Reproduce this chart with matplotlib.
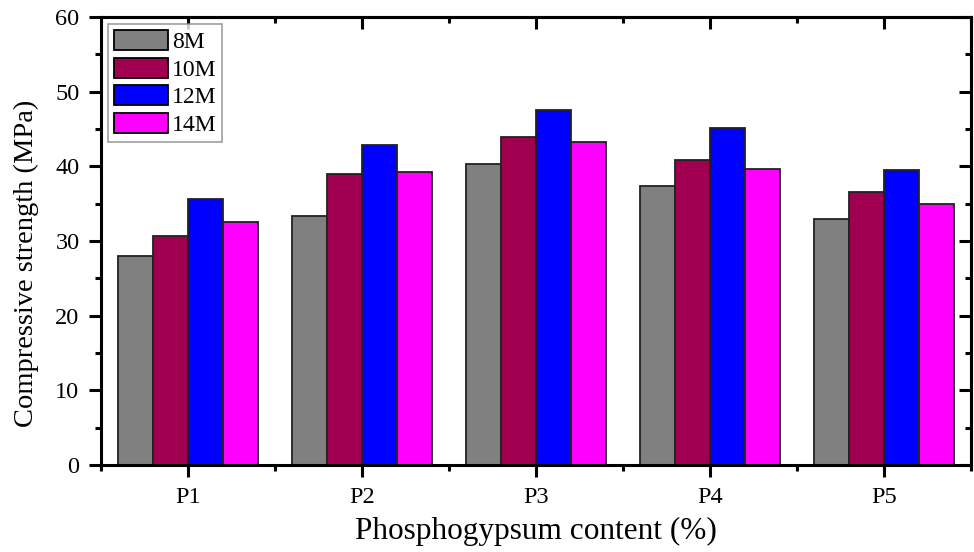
import matplotlib
matplotlib.use("Agg")
import matplotlib.pyplot as plt
from matplotlib.ticker import MultipleLocator, FixedLocator
import numpy as np

plt.rcParams['font.family'] = ['Liberation Serif', 'DejaVu Serif']

# data
groups = ['P1', 'P2', 'P3', 'P4', 'P5']
series_names = ['8M', '10M', '12M', '14M']
s_8m = [28.0, 33.3, 40.3, 37.4, 32.9]
s_10m = [30.7, 39.0, 43.9, 40.9, 36.6]
s_12m = [35.6, 42.9, 47.5, 45.2, 39.5]
s_14m = [32.5, 39.2, 43.2, 39.6, 34.9]
colors = ['#808080', '#A0004F', '#0000FF', '#FF00FF']

fig = plt.figure(figsize=(9.74, 5.52), dpi=100)
ax = fig.add_axes([101 / 974, 1 - 465 / 552, 870 / 974, 448 / 552])

x = np.arange(1, len(groups) + 1)
w = 0.2
for i, (vals, name) in enumerate(zip([s_8m, s_10m, s_12m, s_14m], series_names)):
    ax.bar(x + (i - 1.5) * w, vals, width=w, color=colors[i], edgecolor='#222222',
           linewidth=1.3, label=name)

ax.set_xlim(0.5, 5.5)
ax.set_ylim(0, 60)
ax.set_xticks(x)
ax.set_xticklabels(groups)
ax.xaxis.set_minor_locator(FixedLocator(np.arange(0.5, 6, 1)))
ax.yaxis.set_major_locator(MultipleLocator(10))
ax.yaxis.set_minor_locator(MultipleLocator(5))

for s in ax.spines.values():
    s.set_linewidth(2.2)
ax.tick_params(axis='both', which='major', direction='out', length=8.5, width=2.2,
               labelsize=17.5, pad=7)
ax.tick_params(axis='both', which='minor', direction='out', length=4.5, width=2.2)
ax.tick_params(top=False, right=False, which='both')

# mirrored inward ticks on top and right
axt = ax.secondary_xaxis('top')
axt.set_xticks(x)
axt.set_xticks(np.arange(0.5, 6, 1), minor=True)
axt.tick_params(which='major', direction='in', length=8.5, width=2.2, labeltop=False)
axt.tick_params(which='minor', direction='in', length=4.5, width=2.2)
axt.spines['top'].set_linewidth(2.2)
axr = ax.secondary_yaxis('right')
axr.set_yticks(np.arange(0, 61, 10))
axr.set_yticks(np.arange(5, 60, 10), minor=True)
axr.tick_params(which='major', direction='in', length=8.5, width=2.2, labelright=False)
axr.tick_params(which='minor', direction='in', length=4.5, width=2.2)
axr.spines['right'].set_linewidth(2.2)

ax.set_xlabel('Phosphogypsum content (%)', fontsize=22.5, labelpad=7)
ax.set_ylabel('Compressive strength (MPa)', fontsize=20.5)
ax.yaxis.set_label_coords(-0.071, 0.45)

leg = ax.legend(loc='upper left', fontsize=17, frameon=True, fancybox=False,
                edgecolor='#888888', handlelength=2.3, handleheight=0.95,
                handletextpad=0.15, labelspacing=0.18, borderpad=0.25,
                borderaxespad=0.3)
leg.get_frame().set_linewidth(1.2)
for h in leg.legend_handles:
    h.set_edgecolor('black')

fig.savefig('out.png', dpi=100)
